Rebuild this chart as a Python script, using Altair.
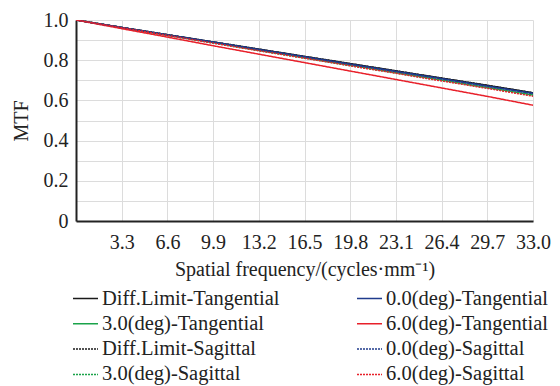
import altair as alt
import pandas as pd

freq = [0.0, 3.3, 6.6, 9.9, 13.2, 16.5, 19.8, 23.1, 26.4, 29.7, 33.0]

# legend is filled column by column (2 columns of 4)
series_names = [
    "Diff.Limit-Tangential", "3.0(deg)-Tangential",
    "Diff.Limit-Sagittal", "3.0(deg)-Sagittal",
    "0.0(deg)-Tangential", "6.0(deg)-Tangential",
    "0.0(deg)-Sagittal", "6.0(deg)-Sagittal",
]
series_colors = ["#1a1a1a", "#1aa34a", "#1a1a1a", "#1aa34a",
                 "#1f3b8c", "#e8202a", "#1f3b8c", "#e8202a"]
series_dash = [[1, 0], [1, 0], [2, 1], [2, 1], [1, 0], [1, 0], [2, 1], [2, 1]]

dl_t = [1.0, 0.963, 0.927, 0.891, 0.855, 0.819, 0.783, 0.747, 0.711, 0.675, 0.638]
d3_t = [1.0, 0.962, 0.924, 0.887, 0.849, 0.812, 0.775, 0.738, 0.701, 0.664, 0.627]
dl_s = [1.0, 0.963, 0.927, 0.891, 0.855, 0.819, 0.783, 0.747, 0.711, 0.675, 0.638]
d3_s = [1.0, 0.962, 0.924, 0.886, 0.848, 0.811, 0.773, 0.736, 0.699, 0.662, 0.624]
d0_t = [1.0, 0.963, 0.926, 0.890, 0.853, 0.817, 0.780, 0.744, 0.708, 0.671, 0.635]
d6_t = [1.0, 0.957, 0.915, 0.872, 0.830, 0.788, 0.746, 0.704, 0.662, 0.620, 0.576]
d0_s = [1.0, 0.963, 0.926, 0.890, 0.853, 0.817, 0.780, 0.744, 0.708, 0.671, 0.634]
d6_s = [1.0, 0.962, 0.923, 0.885, 0.847, 0.810, 0.772, 0.735, 0.697, 0.660, 0.621]

all_vals = [dl_t, d3_t, dl_s, d3_s, d0_t, d6_t, d0_s, d6_s]
draw_rank = [7, 4, 6, 3, 5, 1, 2, 0]

rows = []
for name, vals, rk in zip(series_names, all_vals, draw_rank):
    for f, v in zip(freq, vals):
        rows.append({"freq": f, "mtf": v, "series": name, "rank": rk})
df = pd.DataFrame(rows)

x_ticks = [3.3, 6.6, 9.9, 13.2, 16.5, 19.8, 23.1, 26.4, 29.7, 33.0]
y_ticks = [0, 0.1, 0.2, 0.3, 0.4, 0.5, 0.6, 0.7, 0.8, 0.9, 1.0]

FONT = "Liberation Serif"

chart = alt.Chart(df).mark_line(strokeWidth=1.5, clip=True).encode(
    x=alt.X("freq:Q",
            scale=alt.Scale(domain=[0, 33], nice=False, zero=False),
            axis=alt.Axis(values=x_ticks, format=".1f",
                          title="Spatial frequency/(cycles·mm⁻¹)",
                          titlePadding=7, labelPadding=11, tickSize=0,
                          labelFlush=False, labelOverlap=False,
                          domainColor="#222", domainWidth=2,
                          gridColor="#dcdcdc", gridWidth=1)),
    y=alt.Y("mtf:Q",
            scale=alt.Scale(domain=[0, 1], nice=False),
            axis=alt.Axis(values=y_ticks,
                          labelExpr="datum.value == 0 ? '0' : (round(datum.value*10) % 2 == 0 ? format(datum.value, '.1f') : '')",
                          labelFlush=False, labelOverlap=False,
                          title="MTF", titlePadding=12, labelPadding=8,
                          tickSize=0, domainColor="#222", domainWidth=2,
                          gridColor="#dcdcdc", gridWidth=1)),
    color=alt.Color("series:N",
                    scale=alt.Scale(domain=series_names, range=series_colors),
                    legend=alt.Legend(title=None, orient="none",
                                      legendX=-4, legendY=265,
                                      columns=2, columnPadding=74,
                                      rowPadding=1.3, symbolType="stroke",
                                      symbolSize=625, symbolStrokeWidth=1.5,
                                      labelFont=FONT, labelFontSize=20.5,
                                      labelLimit=400,
                                      labelColor="#222", labelOffset=3)),
    strokeDash=alt.StrokeDash("series:N",
                              scale=alt.Scale(domain=series_names, range=series_dash),
                              legend=None),
    order=alt.Order("rank:Q"),
).properties(
    width=457, height=201,
    padding={"left": 68, "top": 12, "right": 19, "bottom": 165},
    autosize="none",
).configure_axis(
    labelFont=FONT, titleFont=FONT, labelFontSize=20, titleFontSize=20,
    labelColor="#222", titleColor="#222", titleFontWeight="normal",
).configure_view(stroke=None)

chart.save("out.html", embed_options={"renderer": "svg", "actions": False})
